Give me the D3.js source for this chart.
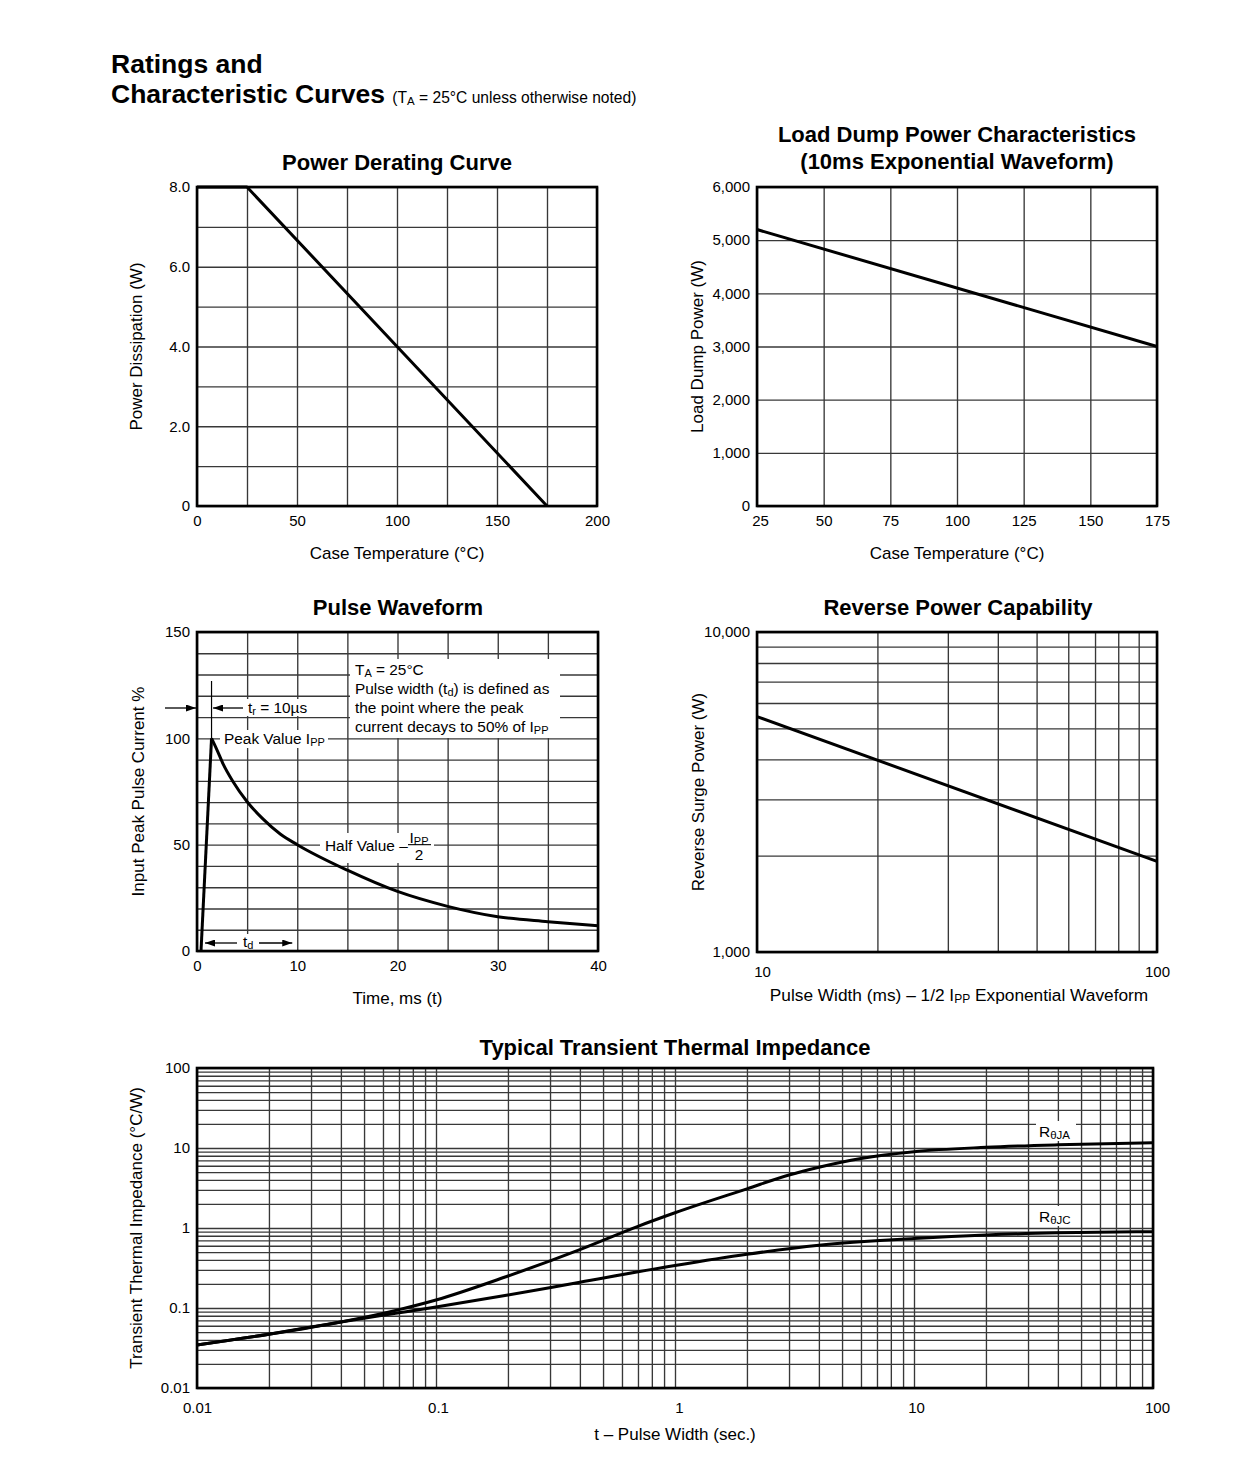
<!DOCTYPE html>
<html><head><meta charset="utf-8">
<script src="https://cdn.jsdelivr.net/npm/d3@7"></script>
<style>
body{margin:0;background:#fff;}
svg text{font-family:"Liberation Sans",Arial,Helvetica,sans-serif;fill:#000;}
</style></head><body>
<svg id="c" width="1250" height="1457" xmlns="http://www.w3.org/2000/svg"></svg>
<script>
// ---------------- DATA ----------------
// Power Derating Curve
const derateTemp = [0, 25, 175];
const derateW    = [8, 8, 0];
const derateXTicks = [0, 50, 100, 150, 200];
const derateYTicks = [0, 2, 4, 6, 8];
const derateYLabels = ["0", "2.0", "4.0", "6.0", "8.0"];

// Load Dump Power Characteristics
const dumpTemp = [25, 175];
const dumpW    = [5200, 3000];
const dumpXTicks = [25, 50, 75, 100, 125, 150, 175];
const dumpYTicks = [0, 1000, 2000, 3000, 4000, 5000, 6000];

// Pulse Waveform
const pulseT = [0.4, 1.45, 2, 2.6, 3.6, 5, 6.6, 8.3, 10, 15, 20, 25, 30, 35, 40];
const pulseI = [0, 100, 94.5, 88, 79.6, 70.2, 62, 55, 50, 38, 28, 21, 16.1, 13.8, 11.9];
const pulseXTicks = [0, 10, 20, 30, 40];
const pulseYTicks = [0, 50, 100, 150];

// Reverse Power Capability
const surgeMs = [10, 100];
const surgeW  = [5440, 1920];
const surgeXTicks = [10, 100];
const surgeYTicks = [1000, 10000];

// Typical Transient Thermal Impedance
const thermTja = [0.01, 0.02, 0.04, 0.07, 0.1, 0.2, 0.4, 0.7, 1, 2, 3, 4, 6, 10, 20, 40, 100];
const thermJA  = [0.0345, 0.047, 0.067, 0.0955, 0.126, 0.251, 0.537, 1.05, 1.55, 3.09, 4.6, 5.75, 7.4, 9.0, 10.2, 10.96, 11.6];
const thermTjc = [0.01, 0.02, 0.04, 0.07, 0.1, 0.2, 0.4, 1, 2, 4, 10, 20, 40, 100];
const thermJC  = [0.0345, 0.047, 0.067, 0.087, 0.103, 0.145, 0.21, 0.34, 0.47, 0.61, 0.74, 0.82, 0.87, 0.9];
const thermTicks = [0.01, 0.1, 1, 10, 100];

// ---------------- HELPERS ----------------
const svg = d3.select("#c");
const GRID = "#383838";

function range(a, b, step) { const r = []; for (let v = a; v <= b + 1e-9; v += step) r.push(+v.toFixed(6)); return r; }
function logGrid(lo, hi) {
  const r = [];
  for (let e = Math.round(Math.log10(lo)); Math.pow(10, e) <= hi * 1.0001; e++) {
    for (let k = 1; k <= 9; k++) { const v = k * Math.pow(10, e); if (v >= lo * 0.9999 && v <= hi * 1.0001) r.push(v); }
  }
  return r;
}

const defs = svg.append("defs");
defs.append("marker").attr("id", "arr").attr("viewBox", "0 0 10 7")
  .attr("markerWidth", 10).attr("markerHeight", 7).attr("refX", 10).attr("refY", 3.5)
  .attr("markerUnits", "userSpaceOnUse").attr("orient", "auto")
  .append("path").attr("d", "M0,0 L10,3.5 L0,7 Z").attr("fill", "#000");

function rich(g, x, y, parts, size, anchor) {
  const t = g.append("text").attr("x", x).attr("y", y).attr("font-size", size)
    .attr("text-anchor", anchor || "start");
  let pend = 0;
  parts.forEach(p => {
    if (typeof p === "string") {
      const ts = t.append("tspan").text(p);
      if (pend) { ts.attr("dy", -pend); pend = 0; }
    } else {
      const s = p.shift != null ? p.shift : 3;
      t.append("tspan").attr("font-size", p.size || Math.round(size * 0.72)).attr("dy", s - pend).text(p.t);
      pend = s;
    }
  });
  return t;
}

function panel(o) {
  const g = svg.append("g");
  const x = o.x, y = o.y;
  const [x0, x1] = x.range(), [y0, y1] = y.range();
  // grid
  g.append("g").attr("transform", `translate(0,${y0})`)
    .call(d3.axisBottom(x).tickValues(o.xGrid).tickSize(-(y0 - y1)).tickFormat(""))
    .call(s => s.select(".domain").remove())
    .selectAll("line").attr("stroke", GRID).attr("stroke-width", 1.35);
  g.append("g").attr("transform", `translate(${x0},0)`)
    .call(d3.axisLeft(y).tickValues(o.yGrid).tickSize(-(x1 - x0)).tickFormat(""))
    .call(s => s.select(".domain").remove())
    .selectAll("line").attr("stroke", GRID).attr("stroke-width", 1.35);
  if (o.backgrounds) o.backgrounds(g, x, y);
  // curves
  o.series.forEach(s => {
    const pts = s.xs.map((v, i) => [v, s.ys[i]]);
    g.append("path").datum(pts)
      .attr("d", d3.line().x(d => x(d[0])).y(d => y(d[1])).curve(s.curve || d3.curveLinear))
      .attr("fill", "none").attr("stroke", "#000").attr("stroke-width", 3)
      .attr("stroke-linejoin", "round");
  });
  // frame
  g.append("rect").attr("x", x0).attr("y", y1).attr("width", x1 - x0).attr("height", y0 - y1)
    .attr("fill", "none").attr("stroke", "#000").attr("stroke-width", 2.6);
  // tick labels
  const ax = g.append("g").attr("transform", `translate(0,${y0})`)
    .call(d3.axisBottom(x).tickValues(o.xTicks).tickSize(0).tickPadding(o.xPad).tickFormat(o.xFmt));
  ax.select(".domain").remove();
  ax.attr("font-size", 15).attr("font-family", null);
  if (o.xShift) ax.selectAll(".tick text").attr("dx", (d, i) => o.xShift[i] || 0);
  const ay = g.append("g").attr("transform", `translate(${x0},0)`)
    .call(d3.axisLeft(y).tickValues(o.yTicks).tickSize(0).tickPadding(7).tickFormat(o.yFmt));
  ay.select(".domain").remove();
  ay.attr("font-size", 15).attr("font-family", null);
  // titles
  o.title.forEach((t, i) => g.append("text").attr("x", o.titleX).attr("y", o.titleY + i * 27)
    .attr("text-anchor", "middle").attr("font-size", 22).attr("font-weight", "bold").text(t));
  if (o.xLabel) {
    if (typeof o.xLabel === "function") o.xLabel(g);
    else g.append("text").attr("x", (x0 + x1) / 2).attr("y", o.xLabelY).attr("text-anchor", "middle")
      .attr("font-size", 17).text(o.xLabel);
  }
  g.append("text").attr("transform", `translate(${o.yLabelX},${(y0 + y1) / 2}) rotate(-90)`)
    .attr("text-anchor", "middle").attr("font-size", 17).text(o.yLabel);
  if (o.after) o.after(g, x, y);
  return g;
}

// ---------------- PAGE TITLE ----------------
svg.append("text").attr("x", 111).attr("y", 73).attr("font-size", 26.5).attr("font-weight", "bold").text("Ratings and");
const t2 = svg.append("text").attr("x", 111).attr("y", 103).attr("font-size", 26.5).attr("font-weight", "bold");
t2.append("tspan").text("Characteristic Curves ");
t2.append("tspan").attr("font-weight", "normal").attr("font-size", 15.6).text("(T");
t2.append("tspan").attr("font-weight", "normal").attr("font-size", 11.5).attr("dy", 2).text("A");
t2.append("tspan").attr("font-weight", "normal").attr("font-size", 15.6).attr("dy", -2).text(" = 25°C unless otherwise noted)");

// ---------------- PANEL 1: Power Derating ----------------
panel({
  x: d3.scaleLinear().domain([0, 200]).range([197, 597]),
  y: d3.scaleLinear().domain([0, 8]).range([506, 187]),
  xGrid: range(0, 200, 25), yGrid: range(0, 8, 1),
  xTicks: derateXTicks, yTicks: derateYTicks,
  xFmt: d => String(d), yFmt: (d, i) => derateYLabels[i],
  xPad: 9.5,
  series: [{ xs: derateTemp, ys: derateW }],
  title: ["Power Derating Curve"], titleX: 397, titleY: 170,
  xLabel: "Case Temperature (°C)", xLabelY: 559,
  yLabel: "Power Dissipation (W)", yLabelX: 142
});

// ---------------- PANEL 2: Load Dump ----------------
panel({
  x: d3.scaleLinear().domain([25, 175]).range([757, 1157]),
  y: d3.scaleLinear().domain([0, 6000]).range([506, 187]),
  xGrid: range(25, 175, 25), yGrid: range(0, 6000, 1000),
  xTicks: dumpXTicks, yTicks: dumpYTicks,
  xFmt: d => String(d), yFmt: d3.format(","),
  xPad: 9.5, xShift: [3],
  series: [{ xs: dumpTemp, ys: dumpW }],
  title: ["Load Dump Power Characteristics", "(10ms Exponential Waveform)"], titleX: 957, titleY: 142,
  xLabel: "Case Temperature (°C)", xLabelY: 559,
  yLabel: "Load Dump Power (W)", yLabelX: 703
});

// ---------------- PANEL 3: Pulse Waveform ----------------
panel({
  x: d3.scaleLinear().domain([0, 40]).range([197, 598]),
  y: d3.scaleLinear().domain([0, 150]).range([951, 632]),
  xGrid: range(0, 40, 5), yGrid: range(0, 150, 10),
  xTicks: pulseXTicks, yTicks: pulseYTicks,
  xFmt: d => String(d), yFmt: d => String(d),
  xPad: 9.5,
  series: [
    { xs: pulseT.slice(0, 2), ys: pulseI.slice(0, 2) },
    { xs: pulseT.slice(1), ys: pulseI.slice(1), curve: d3.curveMonotoneX }
  ],
  backgrounds: (g, x, y) => {
    const W = (a, b, c, d) => g.append("rect").attr("x", a).attr("y", b).attr("width", c).attr("height", d).attr("fill", "#fff");
    W(350, 659, 210, 79);       // info box
    W(245, 699, 68, 17);        // tr label
    W(220, 730, 108, 18);       // peak label
    W(320, 833, 114, 30);       // half value label
    W(200, 934, 96, 16);        // td label
  },
  title: ["Pulse Waveform"], titleX: 398, titleY: 615,
  xLabel: "Time, ms (t)", xLabelY: 1004,
  yLabel: "Input Peak Pulse Current %", yLabelX: 144,
  after: (g, x, y) => {
    const px = x(pulseT[1]);
    g.append("line").attr("x1", px).attr("x2", px).attr("y1", 681).attr("y2", y(100))
      .attr("stroke", "#000").attr("stroke-width", 1.2);
    const arrow = (xa, ya, xb, yb) => g.append("line").attr("x1", xa).attr("y1", ya).attr("x2", xb).attr("y2", yb)
      .attr("stroke", "#000").attr("stroke-width", 1.3).attr("marker-end", "url(#arr)");
    arrow(165, 708, 196, 708);
    arrow(243, 708, px + 1.5, 708);
    const F = 15.4;
    rich(g, 248, 713, ["t", { t: "r", shift: 2, size: 11 }, " = 10µs"], F);
    rich(g, 224, 744, ["Peak Value I", { t: "PP", shift: 2, size: 11 }], F);
    rich(g, 355, 675, ["T", { t: "A", shift: 2, size: 11 }, " = 25°C"], F);
    rich(g, 355, 694, ["Pulse width (t", { t: "d", shift: 2, size: 11 }, ") is defined as"], F);
    rich(g, 355, 713, ["the point where the peak"], F);
    rich(g, 355, 732, ["current decays to 50% of I", { t: "PP", shift: 2, size: 11 }], F);
    rich(g, 325, 851, ["Half Value –"], F);
    rich(g, 419, 843, ["I", { t: "PP", shift: 2, size: 11 }], F, "middle");
    g.append("line").attr("x1", 408).attr("x2", 431).attr("y1", y(50)).attr("y2", y(50)).attr("stroke", "#000").attr("stroke-width", 1.1);
    g.append("text").attr("x", 419).attr("y", 860).attr("text-anchor", "middle").attr("font-size", F).text("2");
    arrow(237, 943, x(0) + 8, 943);
    arrow(259, 943, x(10) - 5, 943);
    rich(g, 243, 947, ["t", { t: "d", shift: 2, size: 11 }], F);
  }
});

// ---------------- PANEL 4: Reverse Power Capability ----------------
panel({
  x: d3.scaleLog().domain([10, 100]).range([757, 1157]),
  y: d3.scaleLog().domain([1000, 10000]).range([952, 632]),
  xGrid: logGrid(10, 100), yGrid: logGrid(1000, 10000),
  xTicks: surgeXTicks, yTicks: surgeYTicks,
  xFmt: d => String(d), yFmt: d3.format(","),
  xPad: 14.5, xShift: [5, 0],
  series: [{ xs: surgeMs, ys: surgeW }],
  title: ["Reverse Power Capability"], titleX: 958, titleY: 615,
  xLabel: g => rich(g, 959, 1001, ["Pulse Width (ms) – 1/2 I", { t: "PP", shift: 2, size: 12 }, " Exponential Waveform"], 17.3, "middle"),
  yLabel: "Reverse Surge Power (W)", yLabelX: 704
});

// ---------------- PANEL 5: Thermal Impedance ----------------
panel({
  x: d3.scaleLog().domain([0.01, 100]).range([197, 1153]),
  y: d3.scaleLog().domain([0.01, 100]).range([1388, 1068]),
  xGrid: logGrid(0.01, 100), yGrid: logGrid(0.01, 100),
  xTicks: thermTicks, yTicks: thermTicks,
  xFmt: d => String(d), yFmt: d => String(d),
  xPad: 14, xShift: [0, 2, 4, 2, 4],
  series: [
    { xs: thermTja, ys: thermJA, curve: d3.curveMonotoneX },
    { xs: thermTjc, ys: thermJC, curve: d3.curveMonotoneX }
  ],
  backgrounds: (g) => {
    g.append("rect").attr("x", 1036).attr("y", 1121).attr("width", 40).attr("height", 20).attr("fill", "#fff");
    g.append("rect").attr("x", 1036).attr("y", 1206).attr("width", 40).attr("height", 20).attr("fill", "#fff");
  },
  title: ["Typical Transient Thermal Impedance"], titleX: 675, titleY: 1055,
  xLabel: "t – Pulse Width (sec.)", xLabelY: 1440,
  yLabel: "Transient Thermal Impedance (°C/W)", yLabelX: 142,
  after: (g) => {
    rich(g, 1039, 1137, ["R", { t: "θJA", shift: 2, size: 11.5 }], 15.5);
    rich(g, 1039, 1222, ["R", { t: "θJC", shift: 2, size: 11.5 }], 15.5);
  }
});
</script>
</body></html>
